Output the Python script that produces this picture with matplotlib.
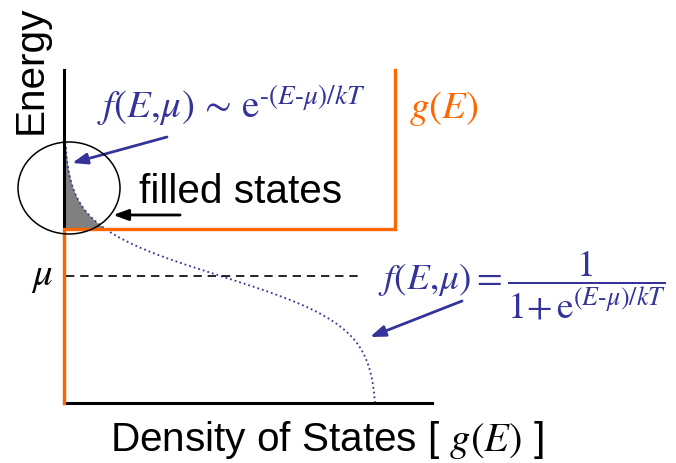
import numpy as np
import matplotlib.pyplot as plt
from matplotlib.patches import Ellipse

plt.rcParams['mathtext.fontset'] = 'stix'
plt.rcParams['font.family'] = ['Liberation Sans', 'DejaVu Sans']

# energies in units of kT, measured from the chemical potential
mu = 0.0
kT = 1.0
E_band = 1.9            # band edge where g(E) switches on
E_low, E_high = -5.08, 8.24
E_curve_top = 5.3
g_flat = 1.057          # constant density of states above the band edge

# step-shaped density of states
g_E = [E_low, E_band, E_band, E_high]
g_val = [0.0, 0.0, g_flat, g_flat]

blue = '#333399'
orange = '#ff6600'

E = np.linspace(E_low, E_curve_top, 500)
f = 1.0 / (1.0 + np.exp((E - mu) / kT))

fig = plt.figure(figsize=(6.76, 4.63), dpi=100)
ax = fig.add_axes([64 / 676, 60 / 463, 368 / 676, 333 / 463])
ax.set_xlim(0, 1.176)
ax.set_ylim(E_low, E_high)
for side in ['top', 'right']:
    ax.spines[side].set_visible(False)
for side in ['left', 'bottom']:
    ax.spines[side].set_linewidth(2.2)
ax.set_xticks([])
ax.set_yticks([])

# occupied states: f(E) times g(E), only above the band edge
above = E >= E_band
ax.fill_betweenx(E[above], 0, f[above], color='#808080', lw=0)

ax.plot(f, E, ls=':', color=blue, lw=1.3)
ax.axhline(mu, xmin=0.005, xmax=0.81, color='k', lw=1.2, ls=(0, (5, 3.5)))
ax.plot(g_val, g_E, color=orange, lw=2.4, zorder=3, clip_on=False,
        solid_joinstyle='miter')

ax.add_patch(Ellipse((0.016, 3.52), 0.326, 3.68, fill=False, ec='k', lw=1.1,
                     clip_on=False, zorder=4))

arrow_blue = dict(arrowstyle='-|>,head_length=0.9,head_width=0.33', color=blue,
                  lw=2, shrinkA=0, shrinkB=0)
arrow_black = dict(arrowstyle='-|>,head_length=0.9,head_width=0.33', color='k',
                   lw=2, shrinkA=0, shrinkB=0)
ax.annotate('', xy=(0.026, 4.52), xytext=(0.329, 5.56), arrowprops=arrow_blue,
            annotation_clip=False)
ax.annotate('', xy=(0.157, 2.44), xytext=(0.371, 2.44), arrowprops=arrow_black,
            annotation_clip=False)
ax.annotate('', xy=(0.978, -2.44), xytext=(1.272, -1.0), arrowprops=arrow_blue,
            annotation_clip=False)

fs = 28
fs_sans = 29.2
fig.text(31 / 676, 1 - 70 / 463, 'Energy', rotation=90, ha='center',
         va='center', fontsize=fs_sans)
fig.text(42 / 676, 1 - 277 / 463, r'$\mu$', ha='center', va='center',
         fontsize=fs)
fig.text(97 / 676, 1 - 118 / 463,
         r'$f(E,\!\mu)\,{\sim}\,\mathrm{e}^{\text{-}(E\text{-}\mu)/kT}$',
         color=blue, fontsize=fs, va='baseline')
fig.text(409 / 676, 1 - 118 / 463, r'$g(E)$', color=orange, fontsize=fs,
         va='baseline')
fig.text(139 / 676, 1 - 203 / 463, 'filled states', fontsize=fs_sans,
         va='baseline')
fig.text(378 / 676, 1 - 285 / 463,
         r'$f(E,\!\mu){=}\dfrac{1}{1{+}\,\mathrm{e}^{(E\text{-}\mu)/kT}}$',
         color=blue, fontsize=26.8, va='center')
fig.text(327 / 676, 1 - 440 / 463, r'Density of States [ $g(E)$ ]',
         ha='center', va='center', fontsize=fs_sans)

fig.savefig('out.png', dpi=100)
